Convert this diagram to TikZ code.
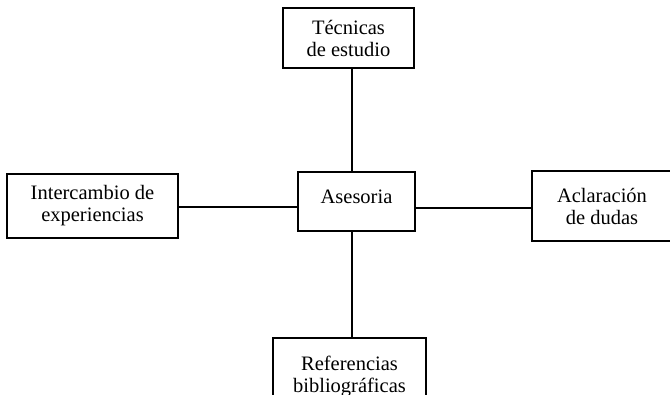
\documentclass[tikz,border=0pt]{standalone}
\usepackage{fontspec}
\setmainfont{Liberation Serif}
\begin{document}
\begin{tikzpicture}[x=1pt,y=-1pt,
  box/.style={draw,line width=1.1pt,inner sep=0pt,align=center,font=\fontsize{20.5}{22}\selectfont},
  link/.style={line width=1.1pt}]
\useasboundingbox (0,0) rectangle (670,395);
\clip (0,0) rectangle (670,395);
\node[box,minimum width=131pt,minimum height=60pt] (tec) at (348.5,38) {Técnicas\\de estudio};
\node[box,minimum width=171pt,minimum height=64pt] (int) at (92.5,206) {Intercambio de\\experiencias};
\node[box,minimum width=117pt,minimum height=59pt] (ase) at (356.5,201.5) {\raisebox{10pt}{Asesoria}};
\node[box,minimum width=140pt,minimum height=70pt] (acl) at (602,206) {Aclaración\\de dudas};
\node[box,minimum width=153pt,minimum height=76pt] (ref) at (349.5,376) {Referencias\\bibliográficas};
\draw[link] (352,0 |- tec.south) -- (352,0 |- ase.north);
\draw[link] (352,0 |- ase.south) -- (352,0 |- ref.north);
\draw[link] (int.east |- 0,207) -- (ase.west |- 0,207);
\draw[link] (ase.east |- 0,208) -- (acl.west |- 0,208);
\end{tikzpicture}
\end{document}
